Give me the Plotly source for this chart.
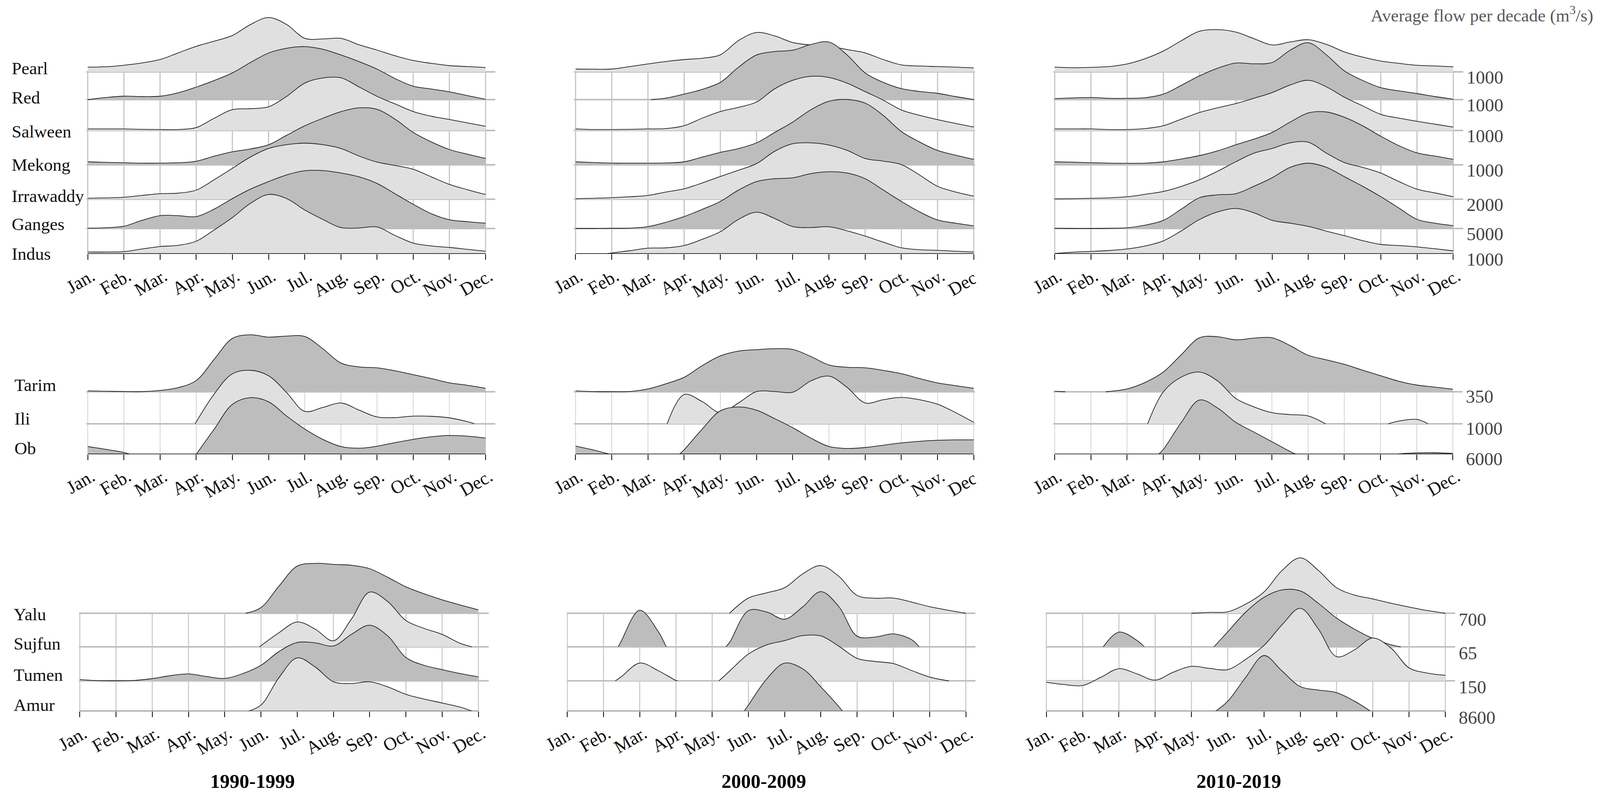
import plotly.graph_objects as go

W, H = 4231, 2043
# the page photographs 4096 px wide and the browser keeps an 8 px body margin
PAGE_W = 4096
FONT = "Liberation Serif"
LIGHT, DARK = "#e0e0e0", "#bdbdbd"
N = None

MONTHS = ["Jan.", "Feb.", "Mar.", "Apr.", "May.", "Jun.", "Jul.", "Aug.", "Sep.", "Oct.", "Nov.", "Dec."]
# every series is sampled twice a month, Jan. to Dec.
SAMPLES = [i / 2 for i in range(23)]

SOUTH = ["Pearl", "Red", "Salween", "Mekong", "Irrawaddy", "Ganges", "Indus"]
WEST = ["Tarim", "Ili", "Ob"]
NORTH = ["Yalu", "Sujfun", "Tumen", "Amur"]
SOUTH_SCALE = ["1000", "1000", "1000", "1000", "2000", "5000", "1000"]
WEST_SCALE = ["350", "1000", "6000"]
NORTH_SCALE = ["700", "65", "150", "8600"]

# 1990-1999
PEARL_90 = [25, 27, 35, 47, 65, 100, 135, 162, 192, 250, 287, 250, 177, 174, 177, 143, 115, 85, 60, 45, 33, 28, 23]
RED_90 = [0, 11, 18, 16, 18, 36, 66, 101, 141, 196, 246, 271, 280, 266, 236, 201, 161, 111, 71, 56, 41, 21, 2]
SALWEEN_90 = [8, 8, 8, 6, 5, 5, 15, 65, 110, 115, 125, 180, 250, 277, 278, 230, 180, 140, 100, 75, 58, 40, 22]
MEKONG_90 = [16, 13, 11, 9, 9, 11, 19, 46, 69, 84, 106, 156, 206, 246, 281, 301, 293, 241, 171, 121, 81, 56, 34]
IRRAWADDY_90 = [5, 7, 10, 20, 29, 32, 48, 103, 163, 223, 268, 288, 296, 288, 268, 228, 196, 178, 158, 118, 78, 50, 25]
GANGES_90 = [2, 4, 12, 43, 68, 68, 63, 103, 158, 208, 248, 283, 305, 306, 293, 273, 238, 183, 128, 78, 46, 36, 28]
INDUS_90 = [10, 10, 12, 26, 39, 45, 67, 127, 192, 267, 314, 292, 232, 182, 139, 137, 142, 97, 57, 42, 34, 24, 14]
TARIM_90 = [7, 4, 2, 1, 10, 32, 87, 252, 412, 440, 422, 430, 427, 332, 222, 192, 185, 162, 132, 102, 69, 50, 27]
ILI_90 = [N, N, N, N, N, N, N, 231, 386, 413, 371, 241, 96, 126, 161, 106, 53, 48, 59, 58, 46, 16, N]
OB_90 = [60, 38, 14, N, N, N, N, 195, 385, 437, 405, 295, 195, 115, 60, 47, 62, 90, 115, 135, 145, 140, 125]
YALU_90 = [N, N, N, N, N, N, N, N, N, N, 33, 158, 273, 289, 283, 278, 258, 208, 153, 113, 78, 48, 20]
SUJFUN_90 = [N, N, N, N, N, N, N, N, N, N, N, 82, 144, 102, 35, 162, 317, 262, 152, 107, 72, 20, N]
TUMEN_90 = [7, 1, 0, 2, 13, 30, 40, 25, 14, 42, 90, 170, 222, 220, 202, 270, 322, 260, 135, 90, 65, 42, 23]
AMUR_90 = [N, N, N, N, N, N, N, N, N, N, 36, 196, 309, 256, 171, 161, 171, 141, 98, 71, 48, 24, N]

# 2000-2009
PEARL_00 = [15, 14, 15, 28, 42, 55, 65, 72, 90, 165, 208, 190, 155, 142, 135, 118, 100, 65, 37, 31, 28, 25, 21]
RED_00 = [N, N, N, N, N, 8, 29, 54, 91, 171, 236, 254, 261, 291, 304, 236, 141, 91, 58, 43, 33, 16, 0]
SALWEEN_00 = [8, 5, 5, 6, 8, 10, 25, 65, 100, 122, 150, 220, 265, 286, 280, 250, 205, 160, 108, 80, 57, 37, 18]
MEKONG_00 = [16, 12, 9, 9, 9, 10, 16, 41, 66, 86, 116, 171, 226, 291, 336, 345, 326, 261, 176, 121, 76, 51, 29]
IRRAWADDY_00 = [3, 5, 8, 13, 20, 38, 55, 86, 120, 153, 188, 253, 293, 298, 286, 258, 215, 201, 183, 128, 68, 38, 16]
GANGES_00 = [0, 0, 1, 2, 10, 33, 63, 101, 143, 203, 248, 263, 268, 290, 300, 293, 263, 203, 143, 88, 45, 28, 14]
INDUS_00 = [N, N, 5, 17, 30, 32, 44, 77, 117, 182, 220, 187, 144, 139, 143, 122, 94, 62, 32, 22, 19, 14, 10]
TARIM_00 = [7, 1, 0, 2, 22, 62, 112, 202, 277, 314, 325, 333, 327, 272, 207, 189, 185, 165, 140, 102, 68, 47, 27]
ILI_00 = [N, N, N, N, N, N, 226, 171, 86, 161, 249, 249, 244, 331, 368, 281, 161, 186, 204, 186, 151, 86, 11]
OB_00 = [63, 33, N, N, N, N, 35, 195, 335, 365, 340, 275, 205, 125, 60, 45, 52, 70, 88, 100, 108, 111, 111]
YALU_00 = [N, N, N, N, N, N, N, N, N, N, 88, 118, 148, 228, 276, 213, 103, 87, 88, 65, 38, 18, 0]
SUJFUN_00 = [N, N, N, 37, 212, 92, N, N, N, 32, 210, 202, 160, 232, 320, 232, 62, 57, 75, 42, N, N, N]
TUMEN_00 = [N, N, N, 25, 103, 60, 2, N, N, 60, 155, 208, 233, 262, 260, 200, 130, 112, 100, 60, 22, N, N]
AMUR_00 = [N, N, N, N, N, N, N, N, N, N, 36, 186, 279, 246, 141, 26, N, N, N, N, N, N, N]

# 2010-2019
PEARL_10 = [25, 22, 24, 28, 42, 70, 110, 165, 215, 223, 210, 175, 142, 158, 170, 145, 105, 78, 57, 45, 35, 31, 27]
RED_10 = [5, 9, 11, 7, 7, 10, 29, 76, 126, 166, 193, 189, 196, 261, 300, 236, 151, 101, 63, 46, 32, 16, 2]
SALWEEN_10 = [8, 8, 8, 5, 5, 10, 25, 60, 95, 120, 142, 170, 200, 240, 265, 230, 175, 130, 85, 65, 48, 33, 18]
MEKONG_10 = [16, 14, 11, 9, 8, 9, 16, 31, 49, 74, 106, 136, 171, 226, 274, 279, 251, 206, 151, 101, 63, 46, 29]
IRRAWADDY_10 = [2, 3, 5, 7, 13, 26, 41, 68, 103, 148, 198, 243, 268, 298, 301, 243, 193, 168, 138, 93, 53, 33, 13]
GANGES_10 = [1, 0, 0, 1, 4, 18, 43, 103, 163, 178, 184, 223, 268, 323, 345, 323, 273, 223, 168, 108, 48, 28, 15]
INDUS_10 = [2, 9, 13, 18, 26, 42, 69, 122, 182, 222, 240, 217, 177, 162, 145, 120, 96, 70, 50, 44, 37, 27, 16]
TARIM_10 = [4, N, N, N, 22, 72, 152, 287, 417, 425, 401, 414, 417, 357, 282, 247, 212, 167, 124, 82, 52, 36, 20]
ILI_10 = [N, N, N, N, N, N, 246, 361, 399, 331, 196, 131, 86, 71, 61, N, N, N, N, 21, 34, N, N]
OB_10 = [N, N, N, N, N, N, 37, 247, 419, 357, 247, 172, 97, 22, N, N, N, N, N, 2, 11, 12, 6]
YALU_10 = [N, N, N, N, N, N, N, N, 0, 5, 8, 53, 123, 248, 321, 248, 148, 105, 83, 58, 36, 16, 0]
SUJFUN_10 = [N, N, N, N, 85, 37, N, N, N, N, 87, 202, 287, 330, 324, 252, 167, 102, 49, 12, N, N, N]
TUMEN_10 = [-8, -22, -27, 20, 70, 40, 4, 50, 84, 72, 65, 125, 205, 325, 420, 300, 140, 180, 248, 190, 75, 45, 32]
AMUR_10 = [N, N, N, N, N, N, N, N, N, N, 58, 198, 323, 233, 143, 123, 108, 58, N, N, N, N, N]

# month where a curve comes off or runs back onto its baseline between two samples
ZEROS = {
    ("Ili", 90): [2.97, 10.69], ("Ob", 90): [1.17, 3.0], ("Yalu", 90): [4.58],
    ("Sujfun", 90): [4.96, 10.82], ("Amur", 90): [4.63, 10.84],
    ("Red", 0): [2.09], ("Indus", 0): [0.85], ("Ili", 0): [2.53], ("Ob", 0): [0.95, 2.87],
    ("Yalu", 0): [4.48], ("Sujfun", 0): [1.41, 2.73, 4.38, 9.71],
    ("Tumen", 0): [1.33, 3.04, 4.19, 10.53], ("Amur", 0): [4.88, 7.6],
    ("Tarim", 10): [0.29, 1.41], ("Ili", 10): [2.57, 7.48, 9.22, 10.31], ("Ob", 10): [2.87, 6.67, 9.47],
    ("Sujfun", 10): [1.57, 2.70, 4.62, 9.77], ("Amur", 10): [4.66, 8.94],
}

SOUTH_VALUES = {
    90: [PEARL_90, RED_90, SALWEEN_90, MEKONG_90, IRRAWADDY_90, GANGES_90, INDUS_90],
    0: [PEARL_00, RED_00, SALWEEN_00, MEKONG_00, IRRAWADDY_00, GANGES_00, INDUS_00],
    10: [PEARL_10, RED_10, SALWEEN_10, MEKONG_10, IRRAWADDY_10, GANGES_10, INDUS_10],
}
WEST_VALUES = {90: [TARIM_90, ILI_90, OB_90], 0: [TARIM_00, ILI_00, OB_00], 10: [TARIM_10, ILI_10, OB_10]}
NORTH_VALUES = {
    90: [YALU_90, SUJFUN_90, TUMEN_90, AMUR_90],
    0: [YALU_00, SUJFUN_00, TUMEN_00, AMUR_00],
    10: [YALU_10, SUJFUN_10, TUMEN_10, AMUR_10],
}

# layout, in reference pixels. k = flow units per pixel of height
ROWS = [
    dict(rivers=SOUTH, values=SOUTH_VALUES, scale=SOUTH_SCALE, k=2.063, top=10, base=[184, 255, 334, 422, 510, 585, 650],
         name_y=[175, 250, 337, 422, 502, 574, 650], name_x=29, first_light=True, grid=3, shift=14, axis="#000000"),
    dict(rivers=WEST, values=WEST_VALUES, scale=WEST_SCALE, k=3.015, top=800, base=[1003, 1085, 1163],
         name_y=[986, 1072, 1148], name_x=36, first_light=False, grid=1.5, shift=12, axis="#000000"),
    dict(rivers=NORTH, values=NORTH_VALUES, scale=NORTH_SCALE, k=2.263, top=1400, base=[1570, 1656, 1743, 1821],
         name_y=[1573, 1648, 1728, 1805], name_x=34, first_light=False, grid=2.5, shift=16, axis="#555555"),
]
# (row, decade): jan tick, dec tick, left end, right end of the baselines
COLS = {
    (0, 90): (232, 1284, 228, 1310), (0, 0): (1522, 2575, 1517, 2578), (0, 10): (2789, 3843, 2786, 3869),
    (1, 90): (232, 1284, 228, 1310), (1, 0): (1522, 2575, 1517, 2578), (1, 10): (2789, 3842, 2785, 3867),
    (2, 90): (211, 1265, 209, 1292), (2, 0): (1500, 2554, 1499, 2579), (2, 10): (2767, 3822, 2765, 3848),
}
DECADES = [(90, "1990-1999", 668), (0, "2000-2009", 2020), (10, "2010-2019", 3276)]


def px(p):
    return (p / W * PAGE_W - 8) / (PAGE_W - 16)


def py(p):
    return 1 - (p - 8) / (H - 16)


def runs(values, zeros):
    # split a series at its gaps and pin each piece onto the baseline where it starts and ends
    pieces, xs, ys = [], [], []
    for x, v in zip(SAMPLES, values):
        if v is None:
            if xs:
                pieces.append((xs, ys))
            xs, ys = [], []
        else:
            xs.append(x)
            ys.append(v)
    if xs:
        pieces.append((xs, ys))
    for xs, ys in pieces:
        first, last = xs[0], xs[-1]
        for z in zeros:
            if first > z and first - z <= 0.75:
                xs.insert(0, z)
                ys.insert(0, 0)
            elif last < z and z - last <= 0.75:
                xs.append(z)
                ys.append(0)
    return pieces


fig = go.Figure()
layout = {}
n = 0
for r, row in enumerate(ROWS):
    bottom = row["base"][-1]
    bases = [(bottom - b) * row["k"] for b in row["base"]]
    for decade, title, title_x in DECADES:
        n += 1
        jan, dec, left, right = COLS[(r, decade)]
        per_month = (dec - jan) / 11
        axes = dict(xaxis=f"x{n}", yaxis=f"y{n}", showlegend=False, hoverinfo="skip", cliponaxis=False)

        # month grid, only between the first and last baseline
        grid_x, grid_y = [], []
        for m in range(12):
            grid_x += [m, m, None]
            grid_y += [0, bases[0], None]
        fig.add_trace(go.Scatter(x=grid_x, y=grid_y, mode="lines", line=dict(color="#c6c6c6", width=row["grid"]), **axes))

        for i, river in enumerate(row["rivers"]):
            light = (i % 2 == 0) == row["first_light"]
            if decade != 90 and r == 2:
                light = i % 2 == 0
            for xs, ys in runs(row["values"][decade][i], ZEROS.get((river, decade), [])):
                y = [bases[i] + v for v in ys]
                fig.add_trace(go.Scatter(x=xs, y=[bases[i]] * len(xs), mode="lines", line=dict(width=0), **axes))
                fig.add_trace(go.Scatter(x=xs, y=y, mode="lines", fill="tonexty", fillcolor=LIGHT if light else DARK,
                                         line=dict(color="#222222", width=1.8, shape="spline"), **axes))

        # bottom axis line stops at Dec., the grey baseline runs on past it
        fig.add_trace(go.Scatter(x=[0, 11], y=[0, 0], mode="lines", line=dict(color=row["axis"], width=3), **axes))

        layout[f"xaxis{n}"] = dict(
            anchor=f"y{n}", domain=[px(left), px(right)], automargin=False,
            range=[(left - jan) / per_month, (right - jan) / per_month],
            tickmode="array", tickvals=list(range(12)), ticktext=MONTHS, tickangle=-30,
            ticks="outside", ticklen=14, tickwidth=1.5, tickcolor="#000000",
            ticklabelstandoff=-3, ticklabelshift=10,
            tickfont=dict(family=FONT, size=47, color="#111111"),
            showgrid=False, zeroline=False, showline=False,
        )
        layout[f"yaxis{n}"] = dict(
            anchor=f"x{n}", side="right", domain=[py(bottom), py(row["top"])], automargin=False,
            range=[0, (bottom - row["top"]) * row["k"]],
            tickmode="array", tickvals=bases, ticktext=row["scale"], ticks="",
            showticklabels=decade == 10, ticklabelstandoff=8, ticklabelshift=row["shift"],
            tickfont=dict(family=FONT, size=47, color="#444444"),
            showgrid=True, gridcolor="#bfbfbf", gridwidth=3.5, zeroline=False, showline=False,
        )

annotations = []
for row in ROWS:
    for river, y in zip(row["rivers"], row["name_y"]):
        annotations.append(dict(text=river, x=px(row["name_x"]), y=py(y), xref="paper", yref="paper",
                                xanchor="left", yanchor="middle", showarrow=False,
                                font=dict(family=FONT, size=45, color="#111111")))
for decade, title, title_x in DECADES:
    annotations.append(dict(text=f"<b>{title}</b>", x=px(title_x), y=py(2000), xref="paper", yref="paper",
                            xanchor="center", yanchor="middle", showarrow=False,
                            font=dict(family=FONT, size=50, color="#000000")))
annotations.append(dict(text="Average flow per decade (m<sup>3</sup>/s)", x=px(4216), y=py(36), xref="paper", yref="paper",
                        xanchor="right", yanchor="middle", showarrow=False,
                        font=dict(family=FONT, size=45, color="#595959")))

# the middle column's upper two axes cut off their last label at the panel edge
shapes = [dict(type="rect", xref="paper", yref="paper", x0=px(2581), x1=px(2660), y0=py(y1), y1=py(y0),
               fillcolor="white", line=dict(width=0), layer="above") for y0, y1 in [(670, 780), (1190, 1300)]]

# no fixed width or height: the figure fills the window it is opened in
fig.update_layout(margin=dict(l=0, r=0, t=0, b=0), paper_bgcolor="white", plot_bgcolor="rgba(0,0,0,0)",
                  showlegend=False, annotations=annotations, shapes=shapes, **layout)
fig.write_html("out.html")
